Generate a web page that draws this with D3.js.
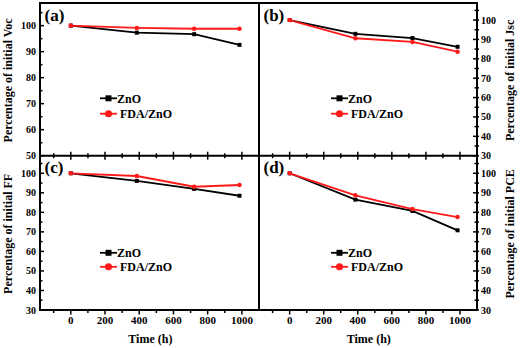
<!DOCTYPE html>
<html>
<head>
<meta charset="utf-8">
<script src="https://cdn.jsdelivr.net/npm/d3@7"></script>
<style>
  body { margin: 0; background: #fff; }
</style>
</head>
<body>
<svg id="graph1"></svg>
<script>
// time points (h)
const hours = [0, 386, 721, 986];

// percentage of initial value
const vocZnO = [100, 97.3, 96.7, 92.6];
const vocFDA = [100, 99.1, 98.8, 98.8];
const jscZnO = [100, 92.9, 90.7, 86.2];
const jscFDA = [100, 90.6, 88.7, 83.7];
const ffZnO = [100, 96.1, 92.0, 88.5];
const ffFDA = [100, 98.6, 93.1, 94.0];
const pceZnO = [100, 86.5, 80.7, 70.8];
const pceFDA = [100, 88.7, 81.7, 77.6];

const xTickLabels = [0, 200, 400, 600, 800, 1000];
const seriesNames = ["ZnO", "FDA/ZnO"];

const width = 520, height = 348;
const svg = d3.select("#graph1").attr("width", width).attr("height", height)
    .attr("font-family", "Liberation Serif, Times New Roman, serif")
    .attr("font-weight", "bold");

// frame layout
const colX = [[40, 259], [259, 477]];
const rowY = [[3, 155.7], [155.7, 310]];

const panels = [
    { tag: "(a)", title: "Percentage of initial Voc", col: 0, row: 0, yMin: 50, yMax: 108.7, zno: vocZnO, fda: vocFDA },
    { tag: "(b)", title: "Percentage of initial Jsc", col: 1, row: 0, yMin: 30, yMax: 108.8, zno: jscZnO, fda: jscFDA },
    { tag: "(c)", title: "Percentage of initial FF", col: 0, row: 1, yMin: 30, yMax: 109, zno: ffZnO, fda: ffFDA },
    { tag: "(d)", title: "Percentage of initial PCE", col: 1, row: 1, yMin: 30, yMax: 109, zno: pceZnO, fda: pceFDA }
];

panels.forEach(p => {
    const [x0, x1] = colX[p.col];
    const [y0, y1] = rowY[p.row];
    const x = d3.scaleLinear().domain([-180, 1100]).range([x0, x1]);
    const y = d3.scaleLinear().domain([p.yMin, p.yMax]).range([y1, y0]);
    const g = svg.append("g");

    // x ticks (minor every 100, major every 200)
    const xTicks = d3.range(-100, 1100, 100).filter(t => x(t) < x1 - 1);
    xTicks.forEach(t => {
        const major = t % 200 === 0 && t >= 0;
        let a, b;
        if (p.row === 0) { a = y1 - (major ? 4 : 2.5); b = y1 + (major ? 4 : 2.5); }
        else { a = y1 - 1; b = y1 + (major ? 4.5 : 3); }
        g.append("line").attr("x1", x(t)).attr("x2", x(t)).attr("y1", a).attr("y2", b)
            .attr("stroke", "#000").attr("stroke-width", 1.5);
    });
    if (p.row === 1) {
        g.selectAll(".xl").data(xTickLabels).join("text")
            .attr("x", d => x(d)).attr("y", 323.5)
            .attr("text-anchor", "middle").attr("font-size", 11)
            .text(d => d);
        g.append("text").attr("x", (x(0) + x(1000)) / 2 - 6).attr("y", 342.5)
            .attr("text-anchor", "middle").attr("font-size", 12).text("Time (h)");
    }

    // y ticks
    const left = p.col === 0;
    const ax = left ? x0 : x1;
    const yTicks = d3.range(p.yMin, p.yMax, 5);
    yTicks.forEach(t => {
        const major = t % 10 === 0;
        const len = major ? 4 : 2.5;
        g.append("line")
            .attr("x1", left ? ax : ax + 2).attr("x2", left ? ax + len : ax - len)
            .attr("y1", y(t)).attr("y2", y(t))
            .attr("stroke", "#000").attr("stroke-width", 1.5);
        if (major) {
            g.append("text")
                .attr("x", left ? ax - 4 : ax + 4).attr("y", y(t)).attr("dy", "0.35em")
                .attr("text-anchor", left ? "end" : "start").attr("font-size", 10)
                .text(t);
        }
    });

    // axis title
    const tx = left ? 12 : 514;
    g.append("text")
        .attr("transform", `translate(${tx},${(y0 + y1) / 2 + 1}) rotate(-90)`)
        .attr("text-anchor", "middle").attr("font-size", 12)
        .text(p.title);

    // panel tag
    g.append("text").attr("x", x0 + 4.5).attr("y", y0 + 17.5)
        .attr("font-size", 17).text(p.tag);

    // series
    const line = d3.line().x(d => x(d[0])).y(d => y(d[1]));
    const sets = [
        { vals: p.zno, color: "#000", sym: d3.symbolSquare, size: 16 },
        { vals: p.fda, color: "#ff1a1a", sym: d3.symbolCircle, size: 16 }
    ];
    sets.forEach(s => {
        const pts = hours.map((h, i) => [h, s.vals[i]]);
        g.append("path").datum(pts).attr("d", line)
            .attr("fill", "none").attr("stroke", s.color).attr("stroke-width", 1.8);
        g.selectAll(null).data(pts).join("path")
            .attr("transform", d => `translate(${x(d[0])},${y(d[1])})`)
            .attr("d", d3.symbol(s.sym, s.size))
            .attr("fill", s.color);
    });

    // legend
    const lx = left ? x0 + 60 : x0 + 72;
    const ly = p.row === 0 ? [98.3, 113.7] : [252.8, 266.8];
    sets.forEach((s, i) => {
        const lg = g.append("g");
        lg.append("line").attr("x1", lx).attr("x2", lx + 17).attr("y1", ly[i]).attr("y2", ly[i])
            .attr("stroke", s.color).attr("stroke-width", 1.8);
        lg.append("path").attr("transform", `translate(${lx + 8.5},${ly[i]})`)
            .attr("d", d3.symbol(s.sym, i === 0 ? 36 : 40)).attr("fill", s.color);
        lg.append("text").attr("x", lx + (i === 0 ? 17 : 20)).attr("y", ly[i]).attr("dy", "0.35em")
            .attr("font-size", 12).text(seriesNames[i]);
    });
});

// frame
svg.append("rect").attr("x", 40).attr("y", 3).attr("width", 437).attr("height", 307)
    .attr("fill", "none").attr("stroke", "#000").attr("stroke-width", 2);
svg.append("line").attr("x1", 259).attr("x2", 259).attr("y1", 3).attr("y2", 310)
    .attr("stroke", "#000").attr("stroke-width", 2);
svg.append("line").attr("x1", 40).attr("x2", 477).attr("y1", 155.7).attr("y2", 155.7)
    .attr("stroke", "#000").attr("stroke-width", 2);
</script>
</body>
</html>
